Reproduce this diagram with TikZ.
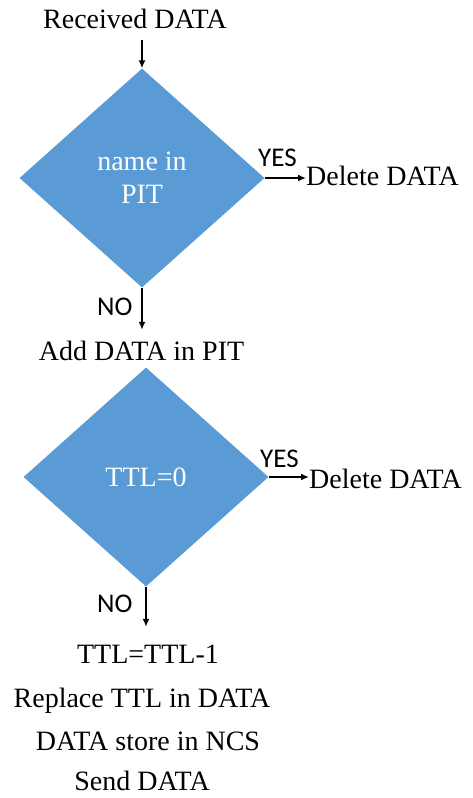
\documentclass[tikz,border=0pt]{standalone}
\usepackage{fontspec}
\setmainfont{Liberation Serif}
\newfontfamily\labelfont{Carlito}
\usetikzlibrary{shapes.geometric,arrows.meta}
\definecolor{decblue}{HTML}{5B9BD5}
\tikzset{
  decision/.style={diamond, fill=decblue, draw=none, inner sep=0pt,
    minimum width=245pt, minimum height=219pt, text=white, align=center,
    font=\fontsize{28}{33}\selectfont},
  txt/.style={inner sep=0pt, text height=19pt, text depth=6pt,
    font=\fontsize{28}{33}\selectfont},
  yn/.style={inner sep=0pt, font=\labelfont\fontsize{27}{30}\selectfont},
  arr/.style={line width=1.8pt, -{Latex[length=8pt,width=7pt]}}
}
\begin{document}
\begin{tikzpicture}[x=1pt,y=-1pt]
  \useasboundingbox (0,0) rectangle (472,798);

  % first decision
  \node[txt, anchor=base] (rcv) at (135,28) {Received DATA};
  \node[decision] (d1) at (142,178) {name in\\PIT};
  \node[txt, anchor=base west] (del1) at (306,185) {Delete DATA};
  \node[yn, anchor=base west] (yes1) at (258,166) {YES};
  \node[txt, anchor=base] (add) at (141.5,360) {Add DATA in PIT};
  \node[yn, anchor=base west] (no1) at (97,315) {NO};

  \draw[arr, shorten <=6pt] (rcv.south -| d1.north) -- (d1.north);
  \draw[arr] (d1.east) -- (d1.east -| del1.west);
  \draw[arr, shorten >=11pt] (d1.south) -- (d1.south |- add.north);

  % second decision
  \node[decision] (d2) at (146,477) {TTL=0};
  \node[txt, anchor=base west] (del2) at (309,488) {Delete DATA};
  \node[yn, anchor=base west] (yes2) at (260,467) {YES};
  \node[yn, anchor=base west] (no2) at (97,612) {NO};

  \node[txt, anchor=base] (t1) at (148,663) {TTL=TTL-1};
  \node[txt, anchor=base] (t2) at (142,707) {Replace TTL in DATA};
  \node[txt, anchor=base] (t3) at (148,750) {DATA store in NCS};
  \node[txt, anchor=base] (t4) at (142,790) {Send DATA};

  \draw[arr] (d2.east) -- (d2.east -| del2.west);
  \draw[arr, shorten >=17pt] (d2.south) -- (d2.south |- t1.north);
\end{tikzpicture}
\end{document}
